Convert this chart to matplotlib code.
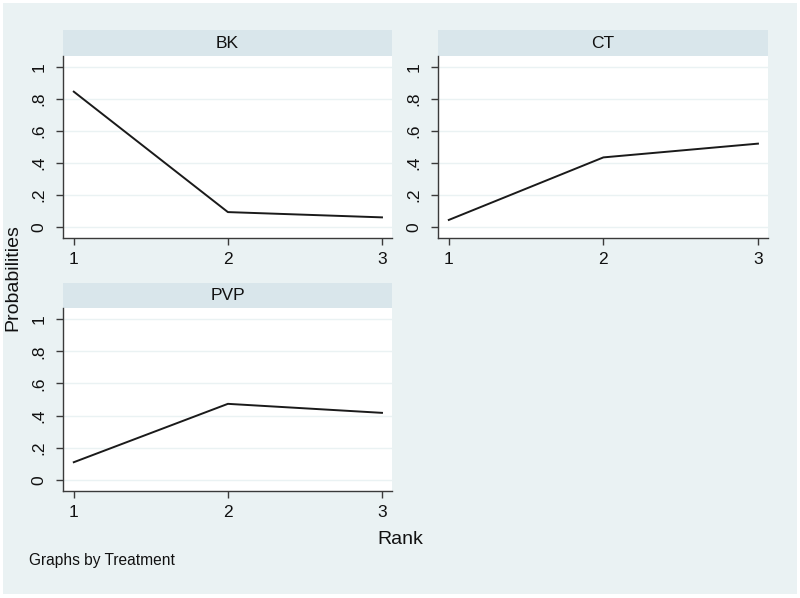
import matplotlib
matplotlib.use("Agg")
import matplotlib.pyplot as plt
import matplotlib.patches as patches

plt.rcParams['font.family'] = ['Liberation Sans', 'DejaVu Sans']

# data
ranks = [1, 2, 3]
treatments = ['BK', 'CT', 'PVP']
prob_bk = [0.846, 0.093, 0.060]
prob_ct = [0.044, 0.435, 0.521]
prob_pvp = [0.110, 0.473, 0.417]
y_ticks = [0, 0.2, 0.4, 0.6, 0.8, 1.0]
y_tick_labels = ['0', '.2', '.4', '.6', '.8', '1']

W, H = 800, 598
bg = '#EAF2F3'
strip_color = '#D9E6EB'
axis_color = '#3A3A3A'


def px_axes(fig, x0, y0, x1, y1):
    # pixel box (top-left origin) -> figure axes
    return fig.add_axes([x0 / W, 1 - y1 / H, (x1 - x0) / W, (y1 - y0) / H])


def draw_panel(fig, x0, x1, strip_top, plot_top, plot_bottom, name, values):
    strip = px_axes(fig, x0, strip_top, x1, plot_top)
    strip.set_facecolor(strip_color)
    strip.set_xticks([])
    strip.set_yticks([])
    for s in strip.spines.values():
        s.set_visible(False)
    strip.text(0.5, 0.5, name, ha='center', va='center', fontsize=12.5,
               color='#111111', transform=strip.transAxes)

    ax = px_axes(fig, x0, plot_top, x1, plot_bottom)
    ax.set_facecolor('white')
    ax.plot(ranks, values, color='#1A1A1A', lw=1.4)
    ax.set_xlim(0.93, 3.065)
    ax.set_ylim(-0.069, 1.069)
    ax.set_xticks(ranks)
    ax.set_yticks(y_ticks)
    ax.set_yticklabels(y_tick_labels, rotation=90, va='center')
    ax.grid(axis='y', color=bg, lw=1.0)
    ax.set_axisbelow(True)
    for s in ['top', 'right']:
        ax.spines[s].set_visible(False)
    for s in ['left', 'bottom']:
        ax.spines[s].set_color(axis_color)
        ax.spines[s].set_linewidth(1.0)
    ax.tick_params(axis='both', length=5, width=1.0, color=axis_color,
                   labelsize=12.5, labelcolor='#111111')
    ax.tick_params(axis='x', pad=5)
    ax.tick_params(axis='y', pad=7)
    return ax


fig = plt.figure(figsize=(W / 100, H / 100), dpi=100)
fig.patch.set_facecolor('white')
fig.patches.append(patches.Rectangle((3 / W, 1 - 594 / H), 794 / W, 591 / H,
                                     transform=fig.transFigure, facecolor=bg,
                                     edgecolor='none', zorder=-10))

draw_panel(fig, 63, 392, 30, 56, 238, treatments[0], prob_bk)
draw_panel(fig, 438, 768, 30, 56, 238, treatments[1], prob_ct)
draw_panel(fig, 63, 392, 283, 308, 491, treatments[2], prob_pvp)

fig.text(13 / W, 1 - 278 / H, 'Probabilities', rotation=90, ha='center',
         va='center', fontsize=14, color='#111111')
fig.text(400 / W, 1 - 539 / H, 'Rank', ha='center', va='center',
         fontsize=14, color='#111111')
fig.text(29 / W, 1 - 561 / H, 'Graphs by Treatment', ha='left', va='center',
         fontsize=11.2, color='#111111')

fig.savefig('out.png', dpi=100, facecolor='white')
